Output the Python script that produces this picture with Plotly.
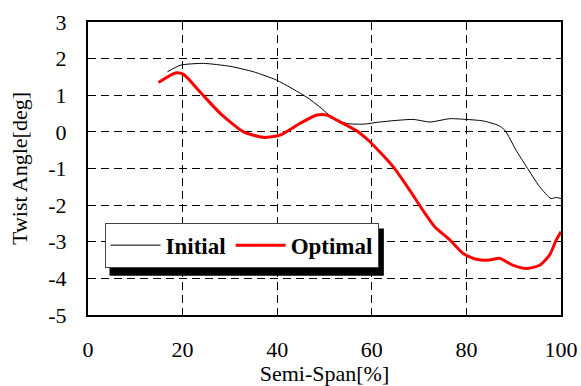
import plotly.graph_objects as go

# Initial twist distribution
init_x = [16.8, 19.5, 24.4, 30.0, 35.0, 39.9, 46.2, 49.0, 51.9, 54.7, 58.2, 61.7, 68.7, 72.3, 76.5, 80.0, 83.5, 86.7, 88.1, 90.5, 92.7, 95.5, 97.9, 99.0, 100.0]
init_y = [1.64, 1.82, 1.87, 1.79, 1.64, 1.41, 0.95, 0.68, 0.37, 0.23, 0.21, 0.27, 0.34, 0.27, 0.36, 0.34, 0.30, 0.18, 0.05, -0.50, -0.95, -1.50, -1.82, -1.79, -1.82]

# Optimal twist distribution
opt_x = [14.9, 18.5, 20.2, 23.7, 28.0, 32.9, 37.1, 40.6, 44.8, 48.4, 50.5, 52.6, 56.8, 59.6, 61.7, 64.5, 68.0, 70.8, 73.3, 76.5, 79.3, 82.1, 84.9, 87.0, 89.8, 92.7, 95.5, 97.6, 99.0, 100.0]
opt_y = [1.35, 1.61, 1.57, 1.09, 0.50, 0.00, -0.15, -0.09, 0.23, 0.46, 0.46, 0.32, 0.03, -0.27, -0.55, -0.95, -1.59, -2.14, -2.59, -2.95, -3.32, -3.48, -3.50, -3.45, -3.64, -3.73, -3.64, -3.36, -2.95, -2.73]

x_ticks = [0, 20, 40, 60, 80, 100]
y_ticks = [-5, -4, -3, -2, -1, 0, 1, 2, 3]
y_ticktext = ["-5", "-4", "-3", "-2", "-1", "0", "1", "2", "3"]

FONT = "Liberation Serif"

fig = go.Figure()
fig.add_trace(go.Scatter(x=init_x, y=init_y, mode="lines", name="Initial",
                         line=dict(color="black", width=1, shape="spline", smoothing=0.6)))
fig.add_trace(go.Scatter(x=opt_x, y=opt_y, mode="lines", name="Optimal",
                         line=dict(color="red", width=3, shape="spline", smoothing=0.6)))

# legend shadow
fig.add_shape(type="rect", xref="paper", yref="paper", x0=0.0454, x1=0.6255, y0=0.134, y1=0.295,
              fillcolor="black", line=dict(width=0), layer="above")

fig.update_layout(
    width=581, height=386,
    margin=dict(l=88, r=20, t=22, b=71),
    paper_bgcolor="white", plot_bgcolor="white",
    font=dict(family=FONT, size=22, color="black"),
    showlegend=True,
    legend=dict(orientation="h", x=0.035, y=0.315, xanchor="left", yanchor="top",
                bgcolor="white", bordercolor="#444", borderwidth=1,
                font=dict(family=FONT, size=23, color="black", weight="bold"),
                itemwidth=50, tracegroupgap=0),
    xaxis=dict(range=[0, 100], tickvals=x_ticks, showgrid=True, gridcolor="black", gridwidth=1,
               griddash="8px,5px", zeroline=False, showline=True, linecolor="black", linewidth=2,
               mirror=True, ticks="", ticklabelstandoff=14, automargin=False,
               tickfont=dict(family=FONT, size=22),
               title=dict(text="Semi-Span[%]", standoff=0, font=dict(family=FONT, size=22))),
    yaxis=dict(range=[-5, 3], tickvals=y_ticks, ticktext=y_ticktext, showgrid=True, gridcolor="black",
               gridwidth=1, griddash="8px,5px", zeroline=False, showline=True, linecolor="black",
               linewidth=2, mirror=True, ticks="", ticklabelstandoff=15, automargin=False,
               tickfont=dict(family=FONT, size=22),
               title=dict(text="Twist Angle[deg]", standoff=15, font=dict(family=FONT, size=22))),
)

fig.write_html("out.html")
